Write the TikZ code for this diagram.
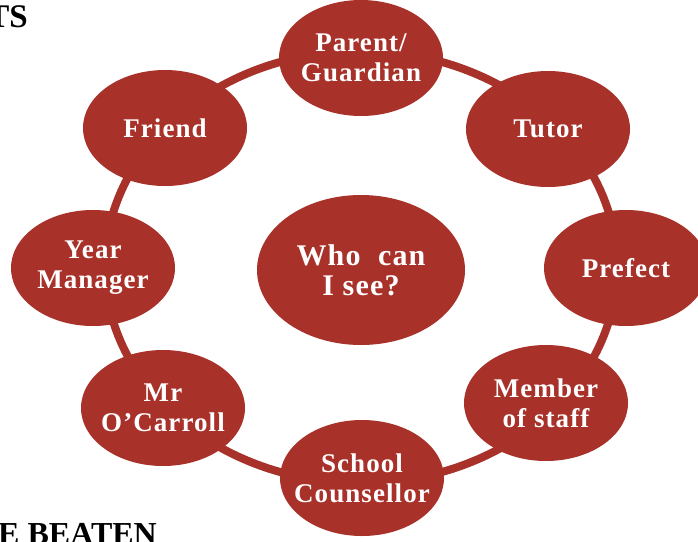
\documentclass[tikz,border=0pt]{standalone}
\usepackage{fontspec}
\setmainfont{Liberation Serif}
\newfontfamily\lblfont[LetterSpace=4]{Liberation Serif}
\usetikzlibrary{shapes.geometric}
\definecolor{ringred}{HTML}{A8312A}
\begin{document}
\begin{tikzpicture}[x=1pt,y=-1pt,
  bub/.style={ellipse, fill=ringred, minimum width=164pt, minimum height=116pt,
    inner xsep=-30pt, inner ysep=0pt, text=white, align=center,
    font=\lblfont\bfseries\fontsize{27}{30}\selectfont},
  hub/.style={bub, minimum width=208pt, minimum height=150pt,
    font=\lblfont\bfseries\fontsize{30}{30}\selectfont},
  ring/.style={draw=ringred, line width=8pt},
  head/.style={anchor=base east, text=black, inner sep=0pt,
    font=\bfseries\fontsize{33}{36}\selectfont}]
\useasboundingbox (0,0) rectangle (698,541);
\clip (0,0) rectangle (698,541);
\coordinate (rc) at (361,267);
\draw[ring] (rc) ellipse [x radius=256pt, y radius=216pt];
\node[bub] (parent) at (361,58) {Parent/\\Guardian};
\node[bub] (tutor) at (548,129) {Tutor};
\node[bub] (prefect) at (626,268) {Prefect};
\node[bub] (staff) at (546,403) {Member\\of staff};
\node[bub] (counsellor) at (362,478) {School\\Counsellor};
\node[bub] (carroll) at (163,408) {Mr\\O’Carroll};
\node[bub] (year) at (93,268) {Year\\Manager};
\node[bub] (friend) at (165,128) {Friend};
\node[hub] (who) at (361,270) {Who~~can\\I see?};
\node[head] (ts) at (28,27) {TS};
\node[head, font=\bfseries\fontsize{32}{36}\selectfont] (beaten) at (157,544) {E BEATEN};
\end{tikzpicture}
\end{document}
